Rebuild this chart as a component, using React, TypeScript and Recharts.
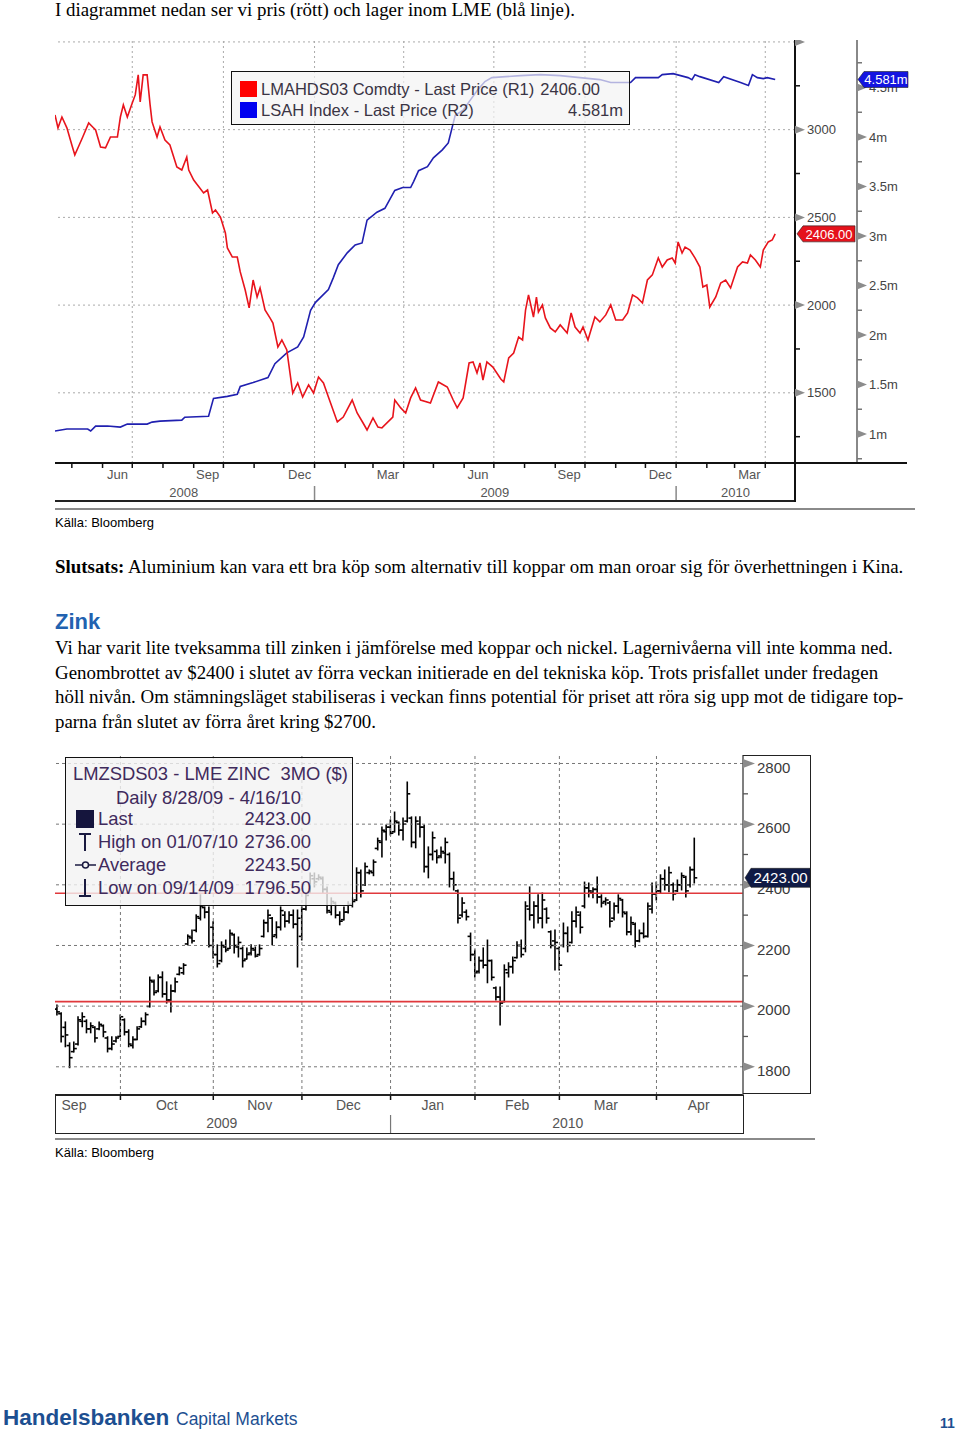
import React from 'react';
import { LineChart, Line, XAxis, YAxis, ReferenceLine, ComposedChart, Bar } from 'recharts';

const SANS = '"Liberation Sans", Arial, sans-serif';
const SERIF = '"Liberation Serif", "Times New Roman", serif';

// ---- aluminium: LME 3M price (R1, USD/t) and LME stocks (R2, million t) ----
const priceDates = [
  '2008-04-14','2008-04-17','2008-04-21','2008-04-26','2008-05-01','2008-05-04','2008-05-08','2008-05-12','2008-05-18','2008-05-22',
  '2008-05-25','2008-05-30','2008-06-04','2008-06-09','2008-06-16','2008-06-19','2008-06-22','2008-06-26','2008-07-01','2008-07-04',
  '2008-07-07','2008-07-09','2008-07-12','2008-07-16','2008-07-19','2008-07-21','2008-07-26','2008-07-29','2008-08-03','2008-08-08',
  '2008-08-15','2008-08-20','2008-08-25','2008-08-27','2008-09-01','2008-09-11','2008-09-15','2008-09-20','2008-09-23','2008-09-28',
  '2008-10-03','2008-10-05','2008-10-10','2008-10-15','2008-10-18','2008-10-23','2008-10-27','2008-10-31','2008-11-04','2008-11-07',
  '2008-11-12','2008-11-17','2008-11-20','2008-11-25','2008-11-29','2008-12-04','2008-12-10','2008-12-15','2008-12-20','2008-12-26',
  '2008-12-31','2009-01-05','2009-01-10','2009-01-15','2009-01-24','2009-01-30','2009-02-08','2009-02-13','2009-02-19','2009-02-23',
  '2009-03-01','2009-03-06','2009-03-10','2009-03-21','2009-03-23','2009-03-29','2009-04-03','2009-04-08','2009-04-13','2009-04-18',
  '2009-04-28','2009-05-06','2009-05-15','2009-05-21','2009-05-25','2009-05-31','2009-06-06','2009-06-10','2009-06-14','2009-06-17',
  '2009-06-20','2009-06-24','2009-06-30','2009-07-08','2009-07-11','2009-07-16','2009-07-21','2009-07-26','2009-07-30','2009-08-02',
  '2009-08-05','2009-08-10','2009-08-13','2009-08-15','2009-08-19','2009-08-22','2009-08-27','2009-09-01','2009-09-06','2009-09-13',
  '2009-09-17','2009-09-21','2009-09-26','2009-09-29','2009-10-04','2009-10-11','2009-10-16','2009-10-22','2009-10-27','2009-11-01',
  '2009-11-08','2009-11-13','2009-11-18','2009-11-23','2009-11-28','2009-12-03','2009-12-08','2009-12-14','2009-12-18','2009-12-23',
  '2009-12-28','2009-12-31','2010-01-03','2010-01-07','2010-01-10','2010-01-15','2010-01-20','2010-01-25','2010-01-28','2010-02-01',
  '2010-02-04','2010-02-10','2010-02-15','2010-02-20','2010-02-25','2010-03-04','2010-03-09','2010-03-14','2010-03-17','2010-03-22',
  '2010-03-27','2010-03-30','2010-04-04','2010-04-08','2010-04-11',
];
const priceValues = [
  3084, 3010, 3072, 3010, 2913, 2856, 2907, 2958, 3038, 3015,
  2998, 2901, 2896, 2958, 2958, 3072, 3141, 3072, 3152, 3198,
  3312, 3158, 3312, 3312, 3141, 3044, 2958, 3015, 2941, 2913,
  2787, 2770, 2844, 2770, 2713, 2639, 2656, 2525, 2542, 2502,
  2411, 2326, 2274, 2274, 2189, 2086, 1984, 2143, 2046, 2098,
  1972, 1927, 1898, 1761, 1801, 1744, 1499, 1556, 1476, 1545,
  1499, 1590, 1556, 1476, 1334, 1362, 1459, 1385, 1328, 1288,
  1357, 1305, 1300, 1362, 1459, 1414, 1385, 1471, 1528, 1459,
  1442, 1562, 1533, 1459, 1414, 1471, 1670, 1676, 1613, 1670,
  1573, 1676, 1647, 1579, 1562, 1699, 1727, 1818, 1801, 1972,
  2058, 1932, 2046, 1961, 2001, 1927, 1870, 1847, 1887, 1841,
  1955, 1875, 1841, 1875, 1801, 1932, 1904, 1944, 2001, 1915,
  1915, 1955, 2058, 2041, 2012, 2143, 2172, 2269, 2217, 2257,
  2269, 2240, 2360, 2297, 2331, 2314, 2269, 2217, 2103, 2115,
  1989, 2046, 2126, 2143, 2098, 2217, 2246, 2240, 2286, 2257,
  2217, 2314, 2360, 2371, 2406,
];
const stockDates = [
  '2008-04-14','2008-04-26','2008-05-17','2008-05-20','2008-05-25','2008-06-06','2008-06-19','2008-06-26','2008-07-16','2008-07-21',
  '2008-07-29','2008-08-20','2008-08-23','2008-09-16','2008-09-21','2008-10-05','2008-10-15','2008-10-18','2008-10-31','2008-11-15',
  '2008-11-22','2008-12-04','2008-12-15','2008-12-21','2008-12-28','2009-01-02','2009-01-15','2009-01-20','2009-01-25','2009-02-03',
  '2009-02-11','2009-02-18','2009-02-23','2009-03-05','2009-03-13','2009-03-23','2009-03-31','2009-04-08','2009-04-11','2009-04-16',
  '2009-04-25','2009-05-01','2009-05-10','2009-05-16','2009-05-20','2009-05-23','2009-05-31','2009-06-07','2009-06-15','2009-06-22',
  '2009-06-29','2009-07-13','2009-07-28','2009-08-17','2009-09-06','2009-09-26','2009-10-16','2009-10-27','2009-11-16','2009-11-21',
  '2009-12-14','2009-12-18','2009-12-29','2010-01-13','2010-01-17','2010-01-20','2010-01-25','2010-02-13','2010-02-18','2010-03-07',
  '2010-03-15','2010-03-19','2010-03-24','2010-03-30','2010-04-03','2010-04-11',
];
const stockValues = [
  1.03, 1.05, 1.05, 1.03, 1.08, 1.08, 1.07, 1.10, 1.10, 1.12,
  1.13, 1.14, 1.17, 1.18, 1.36, 1.38, 1.40, 1.48, 1.52, 1.57,
  1.71, 1.82, 1.88, 1.98, 2.25, 2.33, 2.46, 2.58, 2.71, 2.83,
  2.91, 2.93, 3.16, 3.24, 3.28, 3.46, 3.49, 3.49, 3.55, 3.66,
  3.70, 3.79, 3.87, 3.94, 4.10, 4.22, 4.27, 4.37, 4.48, 4.56,
  4.60, 4.61, 4.62, 4.63, 4.62, 4.60, 4.58, 4.55, 4.55, 4.60,
  4.60, 4.63, 4.64, 4.60, 4.58, 4.63, 4.61, 4.55, 4.61, 4.55,
  4.52, 4.63, 4.60, 4.59, 4.60, 4.581,
];
const lastPrice = 2406;
const lastStock = 4.581;

const alMonthStarts = [
  '2008-05-01','2008-06-01','2008-07-01','2008-08-01','2008-09-01','2008-10-01','2008-11-01','2008-12-01',
  '2009-01-01','2009-02-01','2009-03-01','2009-04-01','2009-05-01','2009-06-01','2009-07-01','2009-08-01',
  '2009-09-01','2009-10-01','2009-11-01','2009-12-01','2010-01-01','2010-02-01','2010-03-01','2010-04-01',
];
const alGridDates = ['2008-07-01','2008-10-01','2009-01-01','2009-04-01','2009-07-01','2009-10-01','2010-01-01','2010-04-01'];
const alMonthLabels = ['Jun', 'Sep', 'Dec', 'Mar', 'Jun', 'Sep', 'Dec', 'Mar'];
const alMonthLabelDates = ['2008-06-16','2008-09-15','2008-12-17','2009-03-16','2009-06-15','2009-09-15','2009-12-16','2010-03-16'];
const alYearLabels = ['2008', '2009', '2010'];
const alYearLabelDates = ['2008-08-22','2009-07-02','2010-03-02'];
const alYearBreaks = ['2009-01-01','2010-01-01'];
const r1Grid = [1500, 2000, 2500, 3000, 3500];
const r1Labelled = [1500, 2000, 2500, 3000];
const r1Minor = [1250, 1750, 2250, 2750, 3250];
const r2Major = [1, 1.5, 2, 2.5, 3, 3.5, 4, 4.5];
const r2Minor = [0.75, 1.25, 1.75, 2.25, 2.75, 3.25, 3.75, 4.25, 4.75];

// ---- zinc: LME 3M daily bars, 9/10/09 - 4/16/10 (trading days) ----
const zincOpen = [
  1990, 1975, 1930, 1870, 1850, 1875, 1950, 1950, 1925, 1930,
  1925, 1935, 1895, 1860, 1885, 1900, 1955, 1915, 1870, 1890,
  1932, 1950, 1999, 2080, 2050, 2095, 2040, 2020, 2050, 2105,
  2110, 2205, 2225, 2250, 2290, 2325, 2310, 2260, 2170, 2150,
  2195, 2190, 2235, 2195, 2190, 2155, 2175, 2185, 2170, 2230,
  2275, 2290, 2235, 2260, 2300, 2280, 2300, 2270, 2230, 2320,
  2375, 2420, 2420, 2420, 2385, 2310, 2340, 2300, 2285, 2310,
  2335, 2350, 2440, 2400, 2440, 2440, 2520, 2540, 2575, 2590,
  2575, 2605, 2580, 2610, 2620, 2540, 2600, 2590, 2460, 2500,
  2510, 2495, 2505, 2500, 2420, 2380, 2300, 2310, 2230, 2170,
  2115, 2150, 2135, 2150, 2060, 2030, 2015, 2110, 2130, 2160,
  2200, 2190, 2320, 2300, 2330, 2290, 2320, 2245, 2215, 2190,
  2200, 2240, 2210, 2280, 2300, 2330, 2390, 2375, 2385, 2360,
  2345, 2340, 2290, 2330, 2350, 2305, 2245, 2270, 2215, 2240,
  2230, 2320, 2370, 2380, 2420, 2400, 2400, 2380, 2400, 2425,
  2400, 2450,
];
const zincHigh = [
  2004, 1978, 1948, 1879, 1882, 1965, 1978, 1955, 1945, 1932,
  1948, 1938, 1899, 1899, 1899, 1971, 1958, 1922, 1899, 1932,
  1961, 1978, 2096, 2086, 2103, 2113, 2080, 2070, 2093, 2129,
  2140, 2235, 2251, 2301, 2367, 2327, 2327, 2278, 2202, 2212,
  2218, 2251, 2238, 2228, 2195, 2192, 2202, 2195, 2202, 2284,
  2317, 2292, 2278, 2327, 2311, 2311, 2317, 2317, 2327, 2373,
  2439, 2439, 2433, 2426, 2393, 2357, 2343, 2311, 2327, 2344,
  2357, 2456, 2449, 2472, 2449, 2482, 2554, 2591, 2597, 2614,
  2640, 2607, 2620, 2739, 2624, 2624, 2624, 2597, 2525, 2574,
  2515, 2525, 2554, 2505, 2442, 2383, 2357, 2317, 2241, 2185,
  2162, 2192, 2218, 2152, 2063, 2063, 2136, 2143, 2162, 2212,
  2218, 2344, 2393, 2344, 2367, 2373, 2324, 2248, 2251, 2195,
  2274, 2261, 2311, 2327, 2311, 2409, 2406, 2390, 2426, 2367,
  2357, 2345, 2340, 2367, 2352, 2311, 2294, 2274, 2251, 2274,
  2340, 2406, 2409, 2433, 2449, 2459, 2406, 2416, 2439, 2428,
  2459, 2554,
];
const zincLow = [
  1971, 1882, 1866, 1797, 1849, 1872, 1932, 1912, 1912, 1882,
  1922, 1899, 1849, 1856, 1882, 1899, 1905, 1866, 1862, 1889,
  1930, 1938, 1997, 2037, 2047, 2030, 2010, 1981, 2047, 2103,
  2105, 2202, 2208, 2245, 2284, 2291, 2195, 2159, 2129, 2146,
  2179, 2190, 2175, 2162, 2129, 2155, 2169, 2162, 2168, 2228,
  2245, 2202, 2225, 2251, 2261, 2274, 2258, 2129, 2218, 2317,
  2373, 2393, 2416, 2373, 2307, 2301, 2291, 2268, 2284, 2307,
  2327, 2348, 2360, 2398, 2436, 2430, 2515, 2492, 2548, 2564,
  2574, 2564, 2548, 2607, 2525, 2522, 2558, 2442, 2423, 2482,
  2472, 2489, 2472, 2393, 2383, 2274, 2294, 2284, 2150, 2096,
  2109, 2126, 2077, 2086, 2020, 1938, 2014, 2096, 2109, 2159,
  2162, 2179, 2284, 2258, 2274, 2258, 2274, 2192, 2119, 2119,
  2195, 2179, 2208, 2261, 2241, 2324, 2360, 2357, 2340, 2327,
  2334, 2261, 2284, 2307, 2294, 2235, 2235, 2195, 2212, 2225,
  2228, 2307, 2350, 2373, 2383, 2377, 2350, 2378, 2383, 2360,
  2393, 2406,
];
const zincClose = [
  1981, 1900, 1905, 1830, 1860, 1955, 1965, 1925, 1935, 1895,
  1940, 1915, 1860, 1875, 1895, 1965, 1915, 1875, 1890, 1925,
  1950, 1972, 2085, 2045, 2095, 2040, 2020, 2050, 2080, 2125,
  2135, 2230, 2215, 2295, 2330, 2310, 2200, 2170, 2140, 2200,
  2185, 2240, 2200, 2210, 2150, 2170, 2190, 2165, 2190, 2275,
  2300, 2230, 2260, 2315, 2280, 2300, 2270, 2290, 2320, 2365,
  2430, 2410, 2425, 2385, 2315, 2345, 2300, 2280, 2310, 2335,
  2345, 2440, 2380, 2460, 2445, 2475, 2545, 2580, 2590, 2570,
  2610, 2580, 2600, 2700, 2540, 2610, 2590, 2460, 2500, 2555,
  2490, 2510, 2540, 2420, 2400, 2290, 2340, 2295, 2170, 2110,
  2150, 2135, 2150, 2095, 2030, 2010, 2120, 2130, 2150, 2200,
  2170, 2330, 2300, 2330, 2290, 2350, 2290, 2200, 2210, 2135,
  2240, 2200, 2280, 2310, 2260, 2390, 2380, 2385, 2360, 2340,
  2350, 2280, 2330, 2355, 2310, 2245, 2275, 2215, 2240, 2230,
  2330, 2370, 2380, 2420, 2400, 2440, 2370, 2400, 2430, 2380,
  2450, 2423,
];
const zincSlots = 163; // trading-day slots shown on the axis
const zincMonthStarts = [15, 37, 58, 79, 99, 119, 142];
const zincMonthLabels = ['Sep', 'Oct', 'Nov', 'Dec', 'Jan', 'Feb', 'Mar', 'Apr'];
const zincMonthLabelIdx = [4, 26, 48, 69, 89, 109, 130, 152];
const zincYearLabels = ['2009', '2010'];
const zincYearLabelIdx = [39, 121];
const zincYearBreaks = [79];
const zincGrid = [1800, 2000, 2200, 2400, 2600, 2800];
const zincMinor = [1900, 2100, 2300, 2500, 2700];
const zincLevels = [2372, 2015];
const zincLast = 2423;

const toDay = (s: string) => Date.parse(s) / 86400000;

const priceSeries = priceDates.map((d, i) => ({ t: toDay(d), v: priceValues[i] }));
const stockSeries = stockDates.map((d, i) => ({ t: toDay(d), v: stockValues[i] }));
const alMonthDays = alMonthStarts.map(toDay);
const alBreakDays = alYearBreaks.map(toDay);
const alLabelDays = alMonthLabelDates.map(toDay);
const alYearDays = alYearLabelDates.map(toDay);
const alTicks = [...alMonthDays, ...alLabelDays, ...alYearDays];

const zincData = Array.from({ length: zincSlots }, (_, i) =>
  i < zincHigh.length
    ? { i, range: [zincLow[i], zincHigh[i]], o: zincOpen[i], h: zincHigh[i], l: zincLow[i], c: zincClose[i] }
    : { i, range: null, o: null, h: null, l: null, c: null }
);
const zincTicks = Array.from(new Set([...zincMonthStarts, ...zincMonthLabelIdx, ...zincYearLabelIdx]));

function Tag({ x, y, w, h, fill, text, size }: any) {
  const d = `M${x},${y} L${x + 6},${y - h / 2} L${x + w},${y - h / 2} L${x + w},${y + h / 2} L${x + 6},${y + h / 2} Z`;
  return (
    <g>
      <path d={d} fill={fill} stroke="#222" strokeWidth={0.6} />
      <text x={x + 6 + (w - 6) / 2} y={y} dy="0.36em" textAnchor="middle" fill="#fff" fontSize={size} fontFamily={SANS}>
        {text}
      </text>
    </g>
  );
}

function AlXTick({ x, y, payload }: any) {
  const v = payload.value;
  const li = alLabelDays.indexOf(v);
  const yi = alYearDays.indexOf(v);
  return (
    <g>
      {alMonthDays.includes(v) && <line x1={x} x2={x} y1={y} y2={y + 5} stroke="#111" strokeWidth={1.5} />}
      {alBreakDays.includes(v) && <line x1={x} x2={x} y1={y + 23} y2={y + 38} stroke="#888" strokeWidth={1.5} />}
      {li >= 0 && (
        <text x={x} y={y + 11} dy="0.35em" textAnchor="middle" fill="#555" fontSize={13} fontFamily={SANS}>
          {alMonthLabels[li]}
        </text>
      )}
      {yi >= 0 && (
        <text x={x} y={y + 29} dy="0.35em" textAnchor="middle" fill="#555" fontSize={13} fontFamily={SANS}>
          {alYearLabels[yi]}
        </text>
      )}
    </g>
  );
}

function R1Tick({ x, y, payload }: any) {
  const v = payload.value;
  if (v === lastPrice) return <Tag x={x + 2} y={y} w={58} h={16} fill="#e5121b" text="2406.00" size={13} />;
  if (r1Minor.includes(v)) return <line x1={x} x2={x + 5} y1={y} y2={y} stroke="#111" strokeWidth={1.5} />;
  return (
    <g>
      <path d={`M${x},${y - 4} L${x + 10},${y} L${x},${y + 4} Z`} fill="#8c8c8c" />
      {r1Labelled.includes(v) && (
        <text x={x + 12} y={y} dy="0.35em" fill="#444" fontSize={13} fontFamily={SANS}>
          {v}
        </text>
      )}
    </g>
  );
}

function R2Tick({ x, y, payload }: any) {
  const v = payload.value;
  if (v === lastStock) return <Tag x={x + 1} y={y} w={50} h={16} fill="#1414e0" text="4.581m" size={13} />;
  if (r2Minor.includes(v)) return <line x1={x} x2={x + 5} y1={y} y2={y} stroke="#777" strokeWidth={1.5} />;
  return (
    <g>
      <path d={`M${x},${y - 4} L${x + 10},${y} L${x},${y + 4} Z`} fill="#8c8c8c" />
      <text x={x + 12} y={y} dy="0.35em" fill="#444" fontSize={13} fontFamily={SANS}>
        {v + 'm'}
      </text>
    </g>
  );
}

function ZincXTick({ x, y, payload }: any) {
  const v = payload.value;
  const li = zincMonthLabelIdx.indexOf(v);
  const yi = zincYearLabelIdx.indexOf(v);
  return (
    <g>
      {zincMonthStarts.includes(v) && <line x1={x} x2={x} y1={y} y2={y + 5} stroke="#111" strokeWidth={1.5} />}
      {zincYearBreaks.includes(v) && <line x1={x} x2={x} y1={y + 20} y2={y + 38} stroke="#777" strokeWidth={1.2} />}
      {li >= 0 && (
        <text x={x} y={y + 10} dy="0.35em" textAnchor="middle" fill="#555" fontSize={14} fontFamily={SANS}>
          {zincMonthLabels[li]}
        </text>
      )}
      {yi >= 0 && (
        <text x={x} y={y + 28} dy="0.35em" textAnchor="middle" fill="#555" fontSize={14} fontFamily={SANS}>
          {zincYearLabels[yi]}
        </text>
      )}
    </g>
  );
}

function ZincYTick({ x, y, payload }: any) {
  const v = payload.value;
  if (v === zincLast) return <Tag x={x + 2} y={y} w={65} h={19} fill="#0f1a45" text="2423.00" size={15} />;
  if (zincMinor.includes(v)) return <line x1={x} x2={x + 5} y1={y} y2={y} stroke="#555" strokeWidth={1.3} />;
  return (
    <g>
      <path d={`M${x},${y - 4.5} L${x + 12},${y} L${x},${y + 4.5} Z`} fill="#8c8c8c" />
      <text x={x + 14} y={y + 4} dy="0.35em" fill="#3a3a3a" fontSize={15} fontFamily={SANS}>
        {v}
      </text>
    </g>
  );
}

function OhlcBar(props: any) {
  const { x, y, width, height, payload } = props;
  if (!payload || payload.h == null || !(height || height === 0)) return null;
  const top = Math.min(y, y + height);
  const bot = Math.max(y, y + height);
  const span = payload.h - payload.l || 1;
  const py = (v: number) => top + ((payload.h - v) / span) * (bot - top);
  const cx = x + width / 2;
  return (
    <g stroke="#000" strokeWidth={1.6}>
      <line x1={cx} x2={cx} y1={top - 0.5} y2={bot + 0.5} />
      <line x1={cx - 3} x2={cx} y1={py(payload.o)} y2={py(payload.o)} />
      <line x1={cx} x2={cx + 3} y1={py(payload.c)} y2={py(payload.c)} />
    </g>
  );
}

function AluChart() {
  return (
    <div style={{ position: 'absolute', left: 55, top: 40, width: 860, height: 462 }}>
      <LineChart width={860} height={462} margin={{ top: 0, right: 0, bottom: 0, left: 0 }}>
        <XAxis
          dataKey="t"
          type="number"
          domain={[toDay('2008-04-14'), toDay('2010-05-01')]}
          allowDataOverflow
          ticks={alTicks}
          interval={0}
          height={39}
          tickSize={0}
          tickMargin={0}
          tickLine={false}
          axisLine={{ stroke: '#111', strokeWidth: 2 }}
          tick={(p: any) => <AlXTick {...p} />}
        />
        <YAxis
          yAxisId="r1"
          orientation="right"
          width={62}
          type="number"
          domain={[1100, 3511]}
          allowDataOverflow
          ticks={[...r1Grid, ...r1Minor, lastPrice]}
          interval={0}
          tickSize={0}
          tickMargin={0}
          tickLine={false}
          axisLine={{ stroke: '#111', strokeWidth: 2 }}
          tick={(p: any) => <R1Tick {...p} />}
        />
        <YAxis
          yAxisId="r2"
          orientation="right"
          width={58}
          type="number"
          domain={[0.707, 4.98]}
          allowDataOverflow
          ticks={[...r2Major, ...r2Minor, lastStock]}
          interval={0}
          tickSize={0}
          tickMargin={0}
          tickLine={false}
          axisLine={{ stroke: '#888', strokeWidth: 2 }}
          tick={(p: any) => <R2Tick {...p} />}
        />
        {alGridDates.map((d) => (
          <ReferenceLine key={d} x={toDay(d)} yAxisId="r1" stroke="#aaa" strokeDasharray="2 3" />
        ))}
        {r1Grid.map((v) => (
          <ReferenceLine key={v} y={v} yAxisId="r1" stroke="#aaa" strokeDasharray="2 3" />
        ))}
        <Line
          data={stockSeries}
          dataKey="v"
          yAxisId="r2"
          type="linear"
          stroke="#2020b0"
          strokeWidth={1.6}
          dot={false}
          isAnimationActive={false}
        />
        <Line
          data={priceSeries}
          dataKey="v"
          yAxisId="r1"
          type="linear"
          stroke="#e8141c"
          strokeWidth={1.6}
          dot={false}
          isAnimationActive={false}
        />
      </LineChart>
    </div>
  );
}

function ZincChart() {
  return (
    <div style={{ position: 'absolute', left: 55, top: 755, width: 755, height: 378 }}>
      <ComposedChart width={755} height={378} data={zincData} margin={{ top: 0, right: 0, bottom: 0, left: 0 }}>
        <XAxis
          dataKey="i"
          type="category"
          allowDuplicatedCategory={false}
          ticks={zincTicks}
          interval={0}
          height={38}
          tickSize={0}
          tickMargin={0}
          tickLine={false}
          axisLine={{ stroke: '#222', strokeWidth: 2 }}
          tick={(p: any) => <ZincXTick {...p} />}
        />
        <YAxis
          orientation="right"
          width={67}
          type="number"
          domain={[1707, 2828]}
          allowDataOverflow
          ticks={[...zincGrid, ...zincMinor, zincLast]}
          interval={0}
          tickSize={0}
          tickMargin={0}
          tickLine={false}
          axisLine={{ stroke: '#555', strokeWidth: 1.5 }}
          tick={(p: any) => <ZincYTick {...p} />}
        />
        {zincMonthStarts.map((m) => (
          <ReferenceLine key={'m' + m} x={m} stroke="#777" strokeDasharray="3 3" />
        ))}
        {zincGrid.map((v) => (
          <ReferenceLine key={'g' + v} y={v} stroke="#777" strokeDasharray="3 3" />
        ))}
        {zincLevels.map((v) => (
          <ReferenceLine key={'r' + v} y={v} stroke="#e0393c" strokeWidth={1.6} />
        ))}
        <Bar dataKey="range" isAnimationActive={false} shape={(p: any) => <OhlcBar {...p} />} />
      </ComposedChart>
    </div>
  );
}

const abs = (left: number, top: number, extra: React.CSSProperties = {}): React.CSSProperties => ({
  position: 'absolute',
  left,
  top,
  whiteSpace: 'pre',
  ...extra,
});

function LegendIcon({ kind }: { kind: string }) {
  const c = '#1a1a40';
  return (
    <svg width={22} height={20} style={{ position: 'absolute', left: 9, top: -10 }}>
      {kind === 'last' && <rect x={1} y={1} width={18} height={18} fill="#15153d" />}
      {kind === 'high' && (
        <g stroke={c} strokeWidth={2}>
          <line x1={4} x2={16} y1={2} y2={2} />
          <line x1={10} x2={10} y1={2} y2={19} />
        </g>
      )}
      {kind === 'avg' && (
        <g stroke={c} strokeWidth={1.5}>
          <line x1={0} x2={21} y1={10} y2={10} />
          <circle cx={10.5} cy={10} r={3} fill="#f2f2f2" />
        </g>
      )}
      {kind === 'low' && (
        <g stroke={c} strokeWidth={2}>
          <line x1={10} x2={10} y1={1} y2={18} />
          <line x1={4} x2={16} y1={18} y2={18} />
        </g>
      )}
    </svg>
  );
}

const zincRows = [
  { kind: 'last', label: 'Last', value: '2423.00' },
  { kind: 'high', label: 'High on 01/07/10', value: '2736.00' },
  { kind: 'avg', label: 'Average', value: '2243.50' },
  { kind: 'low', label: 'Low on 09/14/09', value: '1796.50' },
];

export default function App() {
  const body: React.CSSProperties = { fontFamily: SERIF, fontSize: 18.9, lineHeight: '18px', color: '#000' };
  const legendText = '#3f2a5c';
  return (
    <div style={{ position: 'absolute', left: 0, top: 0, width: 960, height: 1435, background: '#fff', overflow: 'hidden' }}>
      <div style={abs(55, 2, { ...body, lineHeight: '16px' })}>I diagrammet nedan ser vi pris (rött) och lager inom LME (blå linje).</div>

      <AluChart />
      {/* x-axis frame and right panel lines */}
      <div style={abs(55, 500, { width: 741, height: 2, background: '#222' })} />
      <div style={abs(794, 463, { width: 2, height: 39, background: '#111' })} />
      <div style={abs(795, 462, { width: 112, height: 1.5, background: '#111' })} />
      <div style={abs(55, 508, { width: 860, height: 2, background: '#8a8a8a' })} />

      <div
        style={abs(231, 71, {
          width: 399,
          height: 54,
          boxSizing: 'border-box',
          border: '1.5px solid #111',
          background: 'rgba(243,243,243,0.7)',
          fontFamily: SANS,
          fontSize: 16.5,
          color: '#3a3444',
        })}
      >
        <div style={abs(8, 9, { width: 17, height: 16, background: '#f00' })} />
        <div style={abs(8, 30, { width: 17, height: 16, background: '#0000f0' })} />
        <div style={abs(29, 8, { lineHeight: '19px' })}>LMAHDS03 Comdty - Last Price (R1)</div>
        <div style={abs(0, 8, { lineHeight: '19px', width: 368, textAlign: 'right' })}>2406.00</div>
        <div style={abs(29, 29, { lineHeight: '19px' })}>LSAH Index - Last Price (R2)</div>
        <div style={abs(0, 29, { lineHeight: '19px', width: 391, textAlign: 'right' })}>4.581m</div>
      </div>

      <div style={abs(55, 515, { fontFamily: SANS, fontSize: 13, lineHeight: '16px' })}>Källa: Bloomberg</div>

      <div style={abs(55, 558, body)}>
        <b>Slutsats:</b> Aluminium kan vara ett bra köp som alternativ till koppar om man oroar sig för överhettningen i Kina.
      </div>

      <div style={abs(55, 609, { fontFamily: SANS, fontSize: 22, fontWeight: 'bold', color: '#2262b0', lineHeight: '26px' })}>
        Zink
      </div>
      <div style={abs(55, 639, body)}>
        Vi har varit lite tveksamma till zinken i jämförelse med koppar och nickel. Lagernivåerna vill inte komma ned.
      </div>
      <div style={abs(55, 664, body)}>
        Genombrottet av $2400 i slutet av förra veckan initierade en del tekniska köp. Trots prisfallet under fredagen
      </div>
      <div style={abs(55, 688, body)}>
        höll nivån. Om stämningsläget stabiliseras i veckan finns potential för priset att röra sig upp mot de tidigare top-
      </div>
      <div style={abs(55, 713, body)}>parna från slutet av förra året kring $2700.</div>

      <ZincChart />
      <div style={abs(55, 1095, { width: 689, height: 39, boxSizing: 'border-box', border: '1.5px solid #222' })} />
      <div
        style={abs(743, 755, {
          width: 68,
          height: 339,
          boxSizing: 'border-box',
          borderTop: '1.5px solid #222',
          borderRight: '1.5px solid #222',
          borderBottom: '1.5px solid #222',
        })}
      />
      <div style={abs(55, 1138, { width: 760, height: 2, background: '#8a8a8a' })} />

      <div
        style={abs(65, 757, {
          width: 288,
          height: 149,
          boxSizing: 'border-box',
          border: '1.5px solid #111',
          background: 'rgba(243,243,243,0.8)',
          fontFamily: SANS,
          fontSize: 18.4,
          color: legendText,
        })}
      >
        <div style={abs(7, 5, { lineHeight: '21px' })}>{'LMZSDS03 - LME ZINC  3MO ($)'}</div>
        <div style={abs(0, 29, { lineHeight: '21px', width: 285, textAlign: 'center' })}>Daily 8/28/09 - 4/16/10</div>
        {zincRows.map((r, k) => (
          <div key={r.kind} style={abs(0, 61 + k * 23, { width: 285, height: 0 })}>
            <LegendIcon kind={r.kind} />
            <div style={abs(32, -11, { lineHeight: '21px' })}>{r.label}</div>
            <div style={abs(0, -11, { lineHeight: '21px', width: 245, textAlign: 'right' })}>{r.value}</div>
          </div>
        ))}
      </div>

      <div style={abs(55, 1145, { fontFamily: SANS, fontSize: 13, lineHeight: '16px' })}>Källa: Bloomberg</div>

      <div style={abs(3, 1404, { fontFamily: SANS, fontSize: 22.5, fontWeight: 'bold', color: '#1d4f91', lineHeight: '28px' })}>
        Handelsbanken
      </div>
      <div style={abs(176, 1408, { fontFamily: SANS, fontSize: 17.5, color: '#1d4f91', lineHeight: '22px' })}>Capital Markets</div>
      <div style={abs(940, 1414, { fontFamily: SANS, fontSize: 14, fontWeight: 'bold', color: '#1d4f91', lineHeight: '18px' })}>
        11
      </div>
    </div>
  );
}
